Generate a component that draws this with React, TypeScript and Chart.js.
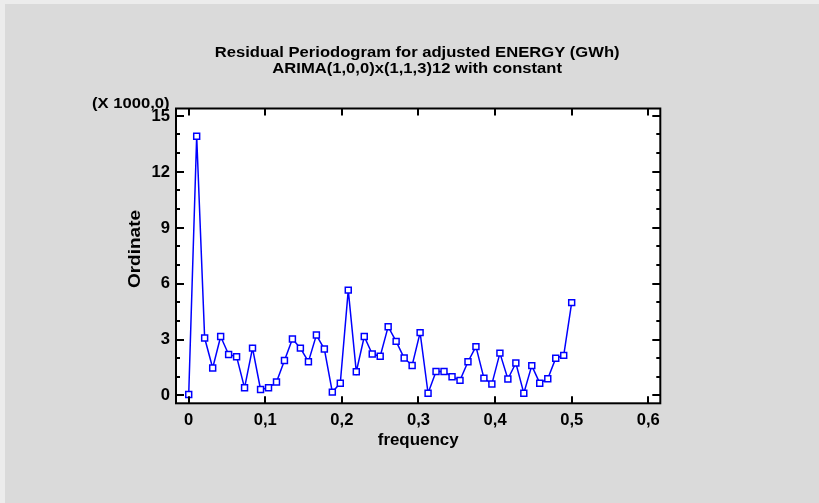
import { useEffect, useRef } from "react";
import { Chart, registerables } from "chart.js";

Chart.register(...registerables);

const titleLines = [
  "Residual Periodogram for adjusted ENERGY (GWh)",
  "ARIMA(1,0,0)x(1,1,3)12 with constant",
];
const yScaleNote = "(X 1000,0)";
const xAxisTitle = "frequency";
const yAxisTitle = "Ordinate";

const frequencies = [
  0, 0.0104, 0.0208, 0.0313, 0.0417, 0.0521, 0.0625, 0.0729, 0.0833, 0.0938,
  0.1042, 0.1146, 0.125, 0.1354, 0.1458, 0.1563, 0.1667, 0.1771, 0.1875, 0.1979,
  0.2083, 0.2188, 0.2292, 0.2396, 0.25, 0.2604, 0.2708, 0.2813, 0.2917, 0.3021,
  0.3125, 0.3229, 0.3333, 0.3438, 0.3542, 0.3646, 0.375, 0.3854, 0.3958, 0.4063,
  0.4167, 0.4271, 0.4375, 0.4479, 0.4583, 0.4688, 0.4792, 0.4896, 0.5,
];

// ordinate values in thousands
const ordinate = [
  0.05, 13.9, 3.08, 1.47, 3.16, 2.2, 2.08, 0.41, 2.54, 0.32,
  0.41, 0.72, 1.88, 3.03, 2.54, 1.81, 3.24, 2.49, 0.18, 0.66,
  5.65, 1.27, 3.16, 2.22, 2.1, 3.69, 2.9, 2.01, 1.61, 3.37,
  0.12, 1.29, 1.29, 1.0, 0.81, 1.81, 2.62, 0.93, 0.61, 2.27,
  0.88, 1.74, 0.12, 1.6, 0.66, 0.9, 2.0, 2.15, 4.98,
];

const xTicks = [0, 0.1, 0.2, 0.3, 0.4, 0.5, 0.6];
const xTickLabels = ["0", "0,1", "0,2", "0,3", "0,4", "0,5", "0,6"];
const yTicks = [0, 3, 6, 9, 12, 15];
const yTickLabels = ["0", "3", "6", "9", "12", "15"];
const yMinorTicks = [1, 2, 4, 5, 7, 8, 10, 11, 13, 14];

const FONT = '"Liberation Sans", Arial, Helvetica, sans-serif';

function drawText(
  ctx: CanvasRenderingContext2D,
  s: string,
  x: number,
  y: number,
  size: number,
  equiv: number,
  align: CanvasTextAlign,
  baseline: CanvasTextBaseline,
  rot = 0
) {
  ctx.save();
  ctx.font = `bold ${size}px ${FONT}`;
  ctx.fillStyle = "#000";
  ctx.textAlign = align;
  ctx.textBaseline = baseline;
  ctx.translate(x, y);
  if (rot) ctx.rotate(rot);
  ctx.scale(equiv / size, 1);
  ctx.fillText(s, 0, 0);
  ctx.restore();
}

const decorPlugin = {
  id: "decor",
  beforeDraw(chart: any) {
    const { ctx, width, height, chartArea: a } = chart;
    ctx.save();
    ctx.fillStyle = "#ececec";
    ctx.fillRect(0, 0, width, height);
    ctx.fillStyle = "#dadada";
    ctx.fillRect(5, 4, width - 5, height - 4);
    ctx.fillStyle = "#ffffff";
    ctx.fillRect(a.left, a.top, a.right - a.left, a.bottom - a.top);
    ctx.restore();
  },
  afterDraw(chart: any) {
    const { ctx, chartArea: a } = chart;
    const xs = chart.scales.x;
    const ys = chart.scales.y;
    ctx.save();
    ctx.strokeStyle = "#000";
    ctx.lineWidth = 2;
    ctx.strokeRect(a.left, a.top, a.right - a.left, a.bottom - a.top);
    ctx.beginPath();
    for (const v of yTicks) {
      const py = Math.round(ys.getPixelForValue(v));
      ctx.moveTo(a.left, py);
      ctx.lineTo(a.left + 8, py);
      ctx.moveTo(a.right, py);
      ctx.lineTo(a.right - 8, py);
    }
    for (const v of yMinorTicks) {
      const py = Math.round(ys.getPixelForValue(v));
      ctx.moveTo(a.left, py);
      ctx.lineTo(a.left + 4, py);
      ctx.moveTo(a.right, py);
      ctx.lineTo(a.right - 4, py);
    }
    for (const v of xTicks) {
      const px = Math.round(xs.getPixelForValue(v));
      ctx.moveTo(px, a.bottom);
      ctx.lineTo(px, a.bottom - 7);
      ctx.moveTo(px, a.top);
      ctx.lineTo(px, a.top + 7);
    }
    ctx.stroke();
    ctx.restore();

    const cx = (a.left + a.right) / 2;
    drawText(ctx, titleLines[0], cx - 1, 57, 14.5, 16.6, "center", "alphabetic");
    drawText(ctx, titleLines[1], cx - 1, 73, 14.5, 16.6, "center", "alphabetic");
    drawText(ctx, yScaleNote, 169.5, 103.5, 15, 16.6, "right", "middle");

    yTicks.forEach((v, i) => {
      drawText(ctx, yTickLabels[i], 170, ys.getPixelForValue(v) + 0.5, 16, 16.6, "right", "middle");
    });
    xTicks.forEach((v, i) => {
      drawText(ctx, xTickLabels[i], xs.getPixelForValue(v), 421, 16, 16.6, "center", "middle");
    });
    drawText(ctx, xAxisTitle, cx, 445, 16, 16.9, "center", "alphabetic");
    drawText(ctx, yAxisTitle, 140, 249, 17, 19, "center", "alphabetic", -Math.PI / 2);
  },
};

export default function App() {
  const ref = useRef<HTMLCanvasElement | null>(null);
  useEffect(() => {
    document.body.style.margin = "0";
    const canvas = ref.current;
    if (!canvas) return;
    const chart = new Chart(canvas, {
      type: "line",
      data: {
        datasets: [
          {
            data: frequencies.map((f, i) => ({ x: f, y: ordinate[i] })),
            borderColor: "#0000ff",
            borderWidth: 1.5,
            pointStyle: "rect",
            pointRadius: 4.2,
            pointBorderWidth: 1.5,
            pointBorderColor: "#0000ff",
            pointBackgroundColor: "#ffffff",
            tension: 0,
            fill: false,
          },
        ],
      },
      options: {
        responsive: false,
        animation: false,
        devicePixelRatio: 1,
        layout: { padding: { left: 176, top: 108.5, right: 158.7, bottom: 99.7 } },
        plugins: { legend: { display: false }, tooltip: { enabled: false }, title: { display: false } },
        scales: {
          x: { type: "linear", display: false, min: -0.0166, max: 0.6157 },
          y: { type: "linear", display: false, min: -0.42, max: 15.39 },
        },
      },
      plugins: [decorPlugin],
    });
    return () => chart.destroy();
  }, []);
  return (
    <div style={{ width: 819, height: 503 }}>
      <canvas ref={ref} width={819} height={503} style={{ display: "block" }} />
    </div>
  );
}
